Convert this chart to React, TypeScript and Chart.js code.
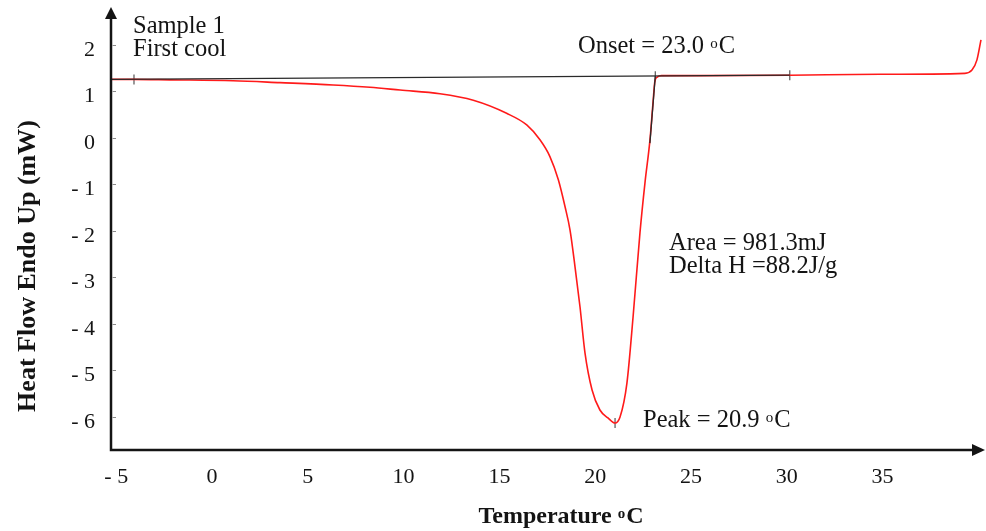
import { useEffect, useRef } from 'react';
import { Chart, registerables } from 'chart.js';

Chart.register(...registerables);

// DSC first-cool curve (Temperature °C vs heat flow mW)
const temperature = [
  -5.43, -4.23, -2.35, 0.94, 3.39, 6.16, 8.09, 9.66, 11.74, 13.48, 15.22, 16.27,
  16.96, 17.48, 17.92, 18.27, 18.53, 18.79, 19.05, 19.31, 19.68, 20.09, 20.51,
  20.88, 21.14, 21.5, 21.82, 22.18, 22.44, 22.7, 22.86, 22.96, 23.08, 23.3,
  25.31, 30.0, 34.72, 39.14, 39.51, 39.77, 39.98,
];
const heatFlow = [
  1.26, 1.26, 1.25, 1.23, 1.19, 1.14, 1.09, 1.03, 0.95, 0.81, 0.53, 0.28,
  -0.04, -0.4, -0.9, -1.48, -1.98, -2.77, -3.63, -4.62, -5.42, -5.85, -6.02,
  -6.13, -6.0, -5.27, -3.85, -2.04, -0.97, -0.05, 0.75, 1.22, 1.31, 1.34,
  1.34, 1.35, 1.37, 1.39, 1.46, 1.68, 2.11,
];

// Baseline and onset tangent
const baselineTemp = [-5.43, 30.0];
const baselineFlow = [1.26, 1.35];
const tangentTemp = [22.7, 22.98];
const tangentFlow = [-0.11, 1.33];

// Small vertical markers (baseline limits, onset, peak)
const markerTemp = [-4.23, 22.98, 30.0, 20.88];
const markerFlow = [1.26, 1.33, 1.35, -6.13];

const xTicks = [-5, 0, 5, 10, 15, 20, 25, 30, 35];
const yTicks = [-6, -5, -4, -3, -2, -1, 0, 1, 2];

const xTitle = 'Temperature ';
const yTitle = 'Heat Flow Endo Up (mW)';
const sampleLines = ['Sample 1', 'First cool'];
const onsetText = 'Onset = 23.0 ';
const areaText = 'Area = 981.3mJ';
const deltaText = 'Delta H =88.2J/g';
const peakText = 'Peak = 20.9 ';

const SERIF = '"Liberation Serif", "Times New Roman", serif';
const INK = '#141414';

const fmt = (v: number) => (v < 0 ? '- ' + Math.abs(v) : String(v));

function drawDeg(ctx: CanvasRenderingContext2D, prefix: string, x: number, y: number, size: number, bold: boolean, align: 'left' | 'center') {
  const w = bold ? 'bold ' : '';
  const big = `${w}${size}px ${SERIF}`;
  const small = `${w}${Math.round(size * 0.62)}px ${SERIF}`;
  ctx.font = big;
  const w1 = ctx.measureText(prefix).width;
  const wC = ctx.measureText('C').width;
  ctx.font = small;
  const wo = ctx.measureText('o').width;
  const total = w1 + wo + wC + 1;
  const sx = align === 'center' ? x - total / 2 : x;
  ctx.textAlign = 'left';
  ctx.textBaseline = 'alphabetic';
  ctx.font = big;
  ctx.fillText(prefix, sx, y);
  ctx.font = small;
  ctx.fillText('o', sx + w1, y - size * 0.22);
  ctx.font = big;
  ctx.fillText('C', sx + w1 + wo + 1, y);
}

const decorPlugin = {
  id: 'decor',
  afterDraw(chart: any) {
    const { ctx, chartArea: a } = chart;
    const ys = chart.scales.y;
    ctx.save();
    // axes
    ctx.strokeStyle = INK;
    ctx.fillStyle = INK;
    ctx.lineWidth = 2.5;
    ctx.beginPath();
    ctx.moveTo(a.left, a.bottom);
    ctx.lineTo(a.left, a.top);
    ctx.moveTo(a.left - 1.25, a.bottom);
    ctx.lineTo(a.right - 12, a.bottom);
    ctx.stroke();
    ctx.beginPath();
    ctx.moveTo(a.left - 6, a.top + 1);
    ctx.lineTo(a.left + 6, a.top + 1);
    ctx.lineTo(a.left, a.top - 11);
    ctx.closePath();
    ctx.fill();
    ctx.beginPath();
    ctx.moveTo(a.right - 13, a.bottom - 6);
    ctx.lineTo(a.right - 13, a.bottom + 6);
    ctx.lineTo(a.right, a.bottom);
    ctx.closePath();
    ctx.fill();
    // small inner ticks on y axis
    ctx.strokeStyle = '#8a8a8a';
    ctx.lineWidth = 1;
    yTicks.forEach((v) => {
      const py = Math.round(ys.getPixelForValue(v)) + 0.5;
      ctx.beginPath();
      ctx.moveTo(a.left + 1.5, py);
      ctx.lineTo(a.left + 5, py);
      ctx.stroke();
    });
    // titles
    ctx.fillStyle = INK;
    ctx.save();
    ctx.translate(28, 266);
    ctx.rotate(-Math.PI / 2);
    ctx.font = `bold 26px ${SERIF}`;
    ctx.textAlign = 'center';
    ctx.textBaseline = 'middle';
    ctx.fillText(yTitle, 0, 0);
    ctx.restore();
    drawDeg(ctx, xTitle, 561, 523, 24, true, 'center');
    // annotations
    const fs = 24.5;
    ctx.font = `${fs}px ${SERIF}`;
    ctx.textAlign = 'left';
    ctx.textBaseline = 'alphabetic';
    ctx.fillText(sampleLines[0], 133, 33);
    ctx.fillText(sampleLines[1], 133, 56);
    ctx.fillText(areaText, 669, 250);
    ctx.fillText(deltaText, 669, 273);
    drawDeg(ctx, onsetText, 578, 53, fs, false, 'left');
    drawDeg(ctx, peakText, 643, 427, fs, false, 'left');
    ctx.restore();
  },
};

export default function App() {
  const ref = useRef<HTMLCanvasElement | null>(null);
  useEffect(() => {
    if (!ref.current) return;
    const pts = (xs: number[], ys: number[]) => xs.map((x, i) => ({ x, y: ys[i] }));
    const chart = new Chart(ref.current, {
      type: 'line',
      data: {
        datasets: [
          {
            label: 'Baseline',
            data: pts(baselineTemp, baselineFlow),
            borderColor: '#2a2a2a',
            borderWidth: 1.3,
            pointRadius: 0,
            clip: false as any,
          },
          {
            label: 'Tangent',
            data: pts(tangentTemp, tangentFlow),
            borderColor: '#2a2a2a',
            borderWidth: 1.3,
            pointRadius: 0,
            clip: false as any,
          },
          {
            label: 'Heat flow',
            data: pts(temperature, heatFlow),
            borderColor: '#ff1a1a',
            borderWidth: 1.6,
            pointRadius: 0,
            cubicInterpolationMode: 'monotone',
            clip: false as any,
          },
          {
            label: 'Markers',
            data: pts(markerTemp, markerFlow),
            showLine: false,
            pointStyle: 'line',
            rotation: 90,
            pointRadius: 5,
            borderColor: '#555',
            borderWidth: 1.2,
            clip: false as any,
          },
        ],
      },
      options: {
        responsive: false,
        animation: false,
        events: [],
        layout: { autoPadding: false, padding: { left: 0, top: 18, right: 1, bottom: 0 } },
        plugins: { legend: { display: false }, tooltip: { enabled: false } },
        scales: {
          x: {
            type: 'linear',
            min: -5.43,
            max: 40.19,
            afterBuildTicks: (s: any) => {
              s.ticks = xTicks.map((v) => ({ value: v }));
            },
            afterFit: (s: any) => {
              s.height = 81;
              s.paddingLeft = 0;
              s.paddingRight = 0;
            },
            ticks: {
              callback: (v: any) => fmt(Number(v)),
              font: { family: SERIF, size: 22 },
              color: INK,
              padding: 14,
              labelOffset: -3,
              maxRotation: 0,
              autoSkip: false,
            },
            grid: { display: false, drawTicks: false },
            border: { display: false },
          },
          y: {
            type: 'linear',
            min: -6.71,
            max: 2.58,
            afterBuildTicks: (s: any) => {
              s.ticks = yTicks.map((v) => ({ value: v }));
            },
            afterFit: (s: any) => {
              s.width = 111;
              s.paddingTop = 0;
              s.paddingBottom = 0;
            },
            ticks: {
              callback: (v: any) => fmt(Number(v)),
              font: { family: SERIF, size: 22 },
              color: INK,
              padding: 16,
              labelOffset: 5,
              autoSkip: false,
            },
            grid: { display: false, drawTicks: false },
            border: { display: false },
          },
        },
      },
      plugins: [decorPlugin],
    });
    return () => chart.destroy();
  }, []);
  return (
    <div style={{ position: 'fixed', left: 0, top: 0, width: 986, height: 531, background: '#fff' }}>
      <canvas ref={ref} width={986} height={531} style={{ display: 'block' }} />
    </div>
  );
}
